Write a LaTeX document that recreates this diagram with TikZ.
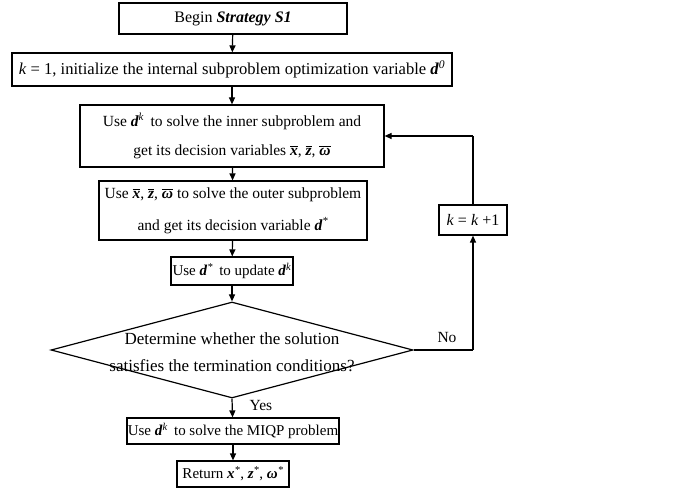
\documentclass[tikz,border=0pt]{standalone}
\usepackage{fontspec}
\setmainfont{Liberation Serif}
\usetikzlibrary{shapes.geometric,arrows.meta}
\newcommand{\bv}[1]{\textbf{\textit{#1}}}
\newcommand{\obv}[1]{$\overline{\mbox{\bv{#1}}}$}
\newcommand{\sps}[1]{\textsuperscript{\textit{#1}}}
\begin{document}
\begin{tikzpicture}[x=1pt,y=1pt,
  box/.style={draw, line width=1.2pt, inner sep=0pt, align=center},
  arr/.style={line width=1.2pt, -{Triangle[length=7pt,width=6pt]}},
  lin/.style={line width=1.2pt},
  every node/.style={font=\fontsize{15.5}{29}\selectfont}]
\useasboundingbox (0,0) rectangle (678,-489);
\node[box, minimum width=228pt, minimum height=31pt, font=\fontsize{16}{20}\selectfont] (b1) at (233,-18.5) {Begin \bv{Strategy S1}};
\node[box, minimum width=440pt, minimum height=33pt, font=\fontsize{16.6}{20}\selectfont] (b2) at (232,-69.5) {\textit{k} = 1,\ initialize the internal subproblem optimization variable \bv{d}\sps{0}};
\node[box, minimum width=304pt, minimum height=62pt] (b3) at (232,-136) {Use \bv{d}\sps{k}\, to solve the inner subproblem and\\get its decision variables \obv{x}, \obv{z}, $\overline{\mbox{\bv{ω}}}$};
\node[box, minimum width=268pt, minimum height=59pt, font=\fontsize{15.5}{32}\selectfont] (b4) at (233,-210.5) {Use \obv{x}, \obv{z}, $\overline{\mbox{\bv{ω}}}$ to solve the outer subproblem\\and get its decision variable \bv{d}\sps{*}};
\node[box, minimum width=122pt, minimum height=28pt, font=\fontsize{15}{20}\selectfont] (b5) at (232,-271) {Use \bv{d}\sps{*}\, to update \bv{d}\sps{k}};
\node[draw, diamond, line width=1.2pt, inner sep=0pt, minimum width=362pt, minimum height=96pt] (dia) at (232,-350) {};
\node[align=center, font=\fontsize{17}{27}\selectfont] (diat) at (232,-352) {Determine whether the solution\\satisfies the termination conditions?};
\node[box, minimum width=212pt, minimum height=26pt, font=\fontsize{15}{20}\selectfont] (b6) at (233,-431) {Use \bv{d}\sps{k}\, to solve the MIQP problem};
\node[box, minimum width=112pt, minimum height=26pt, font=\fontsize{15}{20}\selectfont] (b7) at (233,-474) {Return \bv{x}\sps{*}, \bv{z}\sps{*}, \bv{ω}\sps{*}};
\node[box, minimum width=68pt, minimum height=30pt, font=\fontsize{16}{20}\selectfont] (kb) at (473,-220) {\textit{k} = \textit{k} +1};
\coordinate (c1) at (473,-350);
\coordinate (c2) at (473,-136);
\node (no) at (447,-338) {No};
\node (yes) at (261,-406) {Yes};
\draw[arr] (b1) -- (b2);
\draw[arr] (b2) -- (b3);
\draw[arr] (b3) -- (b4);
\draw[arr] (b4) -- (b5);
\draw[arr] (b5) -- (dia.north);
\draw[arr] (dia.south) -- (b6);
\draw[arr] (b6) -- (b7);
\draw[lin] (dia.east) -- (c1);
\draw[arr] (c1) -- (kb.south);
\draw[lin] (kb.north) -- (c2);
\draw[arr] (c2) -- (b3.east);
\end{tikzpicture}
\end{document}
